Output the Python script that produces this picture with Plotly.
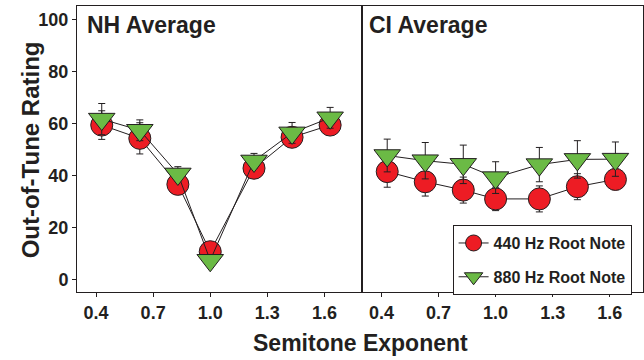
import plotly.graph_objects as go

# Data
semitone_exp = [0.43, 0.63, 0.83, 1.0, 1.23, 1.43, 1.63]
nh_440 = [59.4, 54.3, 36.6, 10.7, 42.8, 54.7, 59.4]
nh_440_err = [5.5, 6.0, 1.5, 1.0, 1.5, 1.5, 1.5]
nh_880 = [61.7, 57.4, 40.6, 7.4, 45.6, 56.4, 62.2]
nh_880_err = [6.0, 4.0, 2.8, 1.0, 2.9, 4.0, 4.0]
ci_440 = [41.5, 37.6, 34.4, 31.0, 31.0, 35.7, 38.5]
ci_440_err = [6.0, 5.5, 5.0, 4.5, 5.0, 5.0, 4.0]
ci_880 = [47.7, 45.7, 44.3, 39.2, 44.2, 46.2, 46.3]
ci_880_err = [6.3, 7.0, 7.4, 6.1, 6.6, 7.2, 6.6]
x_ticks = [0.4, 0.7, 1.0, 1.3, 1.6]
x_tick_text = ["0.4", "0.7", "1.0", "1.3", "1.6"]
y_ticks = [0, 20, 40, 60, 80, 100]
series_names = ["440 Hz Root Note", "880 Hz Root Note"]

RED = "#ED1C24"
GREEN = "#6BBA45"
INK = "#231F20"
FONT = "Arial, Liberation Sans, sans-serif"

fig = go.Figure()

def add(xa, y, err, name, symbol, color, size, show):
    fig.add_trace(go.Scatter(
        x=semitone_exp, y=y, xaxis=xa, yaxis="y" if xa == "x" else "y2",
        mode="lines+markers", name=name, showlegend=show, legendgroup=name,
        line=dict(color=INK, width=1),
        marker=dict(symbol=symbol, color=color, size=size,
                    line=dict(color=INK, width=1)),
        error_y=dict(type="data", array=err, visible=True,
                     color=INK, thickness=1, width=3.5),
    ))

add("x", nh_440, nh_440_err, series_names[0], "circle", RED, 22, False)
add("x", nh_880, nh_880_err, series_names[1], "triangle-down", GREEN, 23, False)
add("x2", ci_440, ci_440_err, series_names[0], "circle", RED, 22, True)
add("x2", ci_880, ci_880_err, series_names[1], "triangle-down", GREEN, 23, True)

d = 0.5044
tickfont = dict(family=FONT, size=18, color=INK, weight="bold")
common_x = dict(tickvals=x_ticks, ticktext=x_tick_text, ticks="outside",
                ticklen=4, tickwidth=1, tickcolor=INK, showline=True,
                linecolor=INK, linewidth=1, mirror=True, showgrid=False,
                zeroline=False, tickfont=tickfont)
fig.update_layout(
    width=644, height=360,
    margin=dict(l=77, r=1, t=6, b=68),
    paper_bgcolor="white", plot_bgcolor="white",
    xaxis=dict(domain=[0, d], range=[0.3, 1.8], anchor="y", **common_x),
    xaxis2=dict(domain=[d, 1], range=[0.3, 1.775], anchor="y2", **common_x),
    yaxis=dict(range=[-4.8, 105.2], tickvals=y_ticks, ticks="outside",
               ticklen=4, tickwidth=1, tickcolor=INK, showline=True,
               linecolor=INK, linewidth=1, mirror=True, showgrid=False,
               zeroline=False, tickfont=tickfont, anchor="x"),
    yaxis2=dict(range=[-4.8, 105.2], matches="y", showline=True,
                linecolor=INK, linewidth=1, mirror=True, showgrid=False,
                zeroline=False, showticklabels=False, ticks="", anchor="x2"),
    legend=dict(x=0.6636, y=0.234, xanchor="left", yanchor="top",
                bordercolor=INK, borderwidth=1, bgcolor="white",
                font=dict(family=FONT, size=16, color=INK, weight="bold")),
    showlegend=True,
    annotations=[
        dict(text="NH Average", xref="paper", yref="paper", x=0.0146, y=0.9336,
             xanchor="left", yanchor="middle", showarrow=False,
             font=dict(family=FONT, size=23, color=INK, weight="bold")),
        dict(text="CI Average", xref="paper", yref="paper", x=0.512, y=0.9336,
             xanchor="left", yanchor="middle", showarrow=False,
             font=dict(family=FONT, size=23, color=INK, weight="bold")),
        dict(text="Semitone Exponent", xref="paper", yref="paper", x=0.5, y=-0.178,
             xanchor="center", yanchor="middle", showarrow=False,
             font=dict(family=FONT, size=23, color=INK, weight="bold")),
        dict(text="Out-of-Tune Rating", xref="paper", yref="paper", x=-0.0824, y=0.4965,
             xanchor="center", yanchor="middle", showarrow=False, textangle=-90,
             font=dict(family=FONT, size=24, color=INK, weight="bold")),
    ],
)

fig.write_html("out.html")
